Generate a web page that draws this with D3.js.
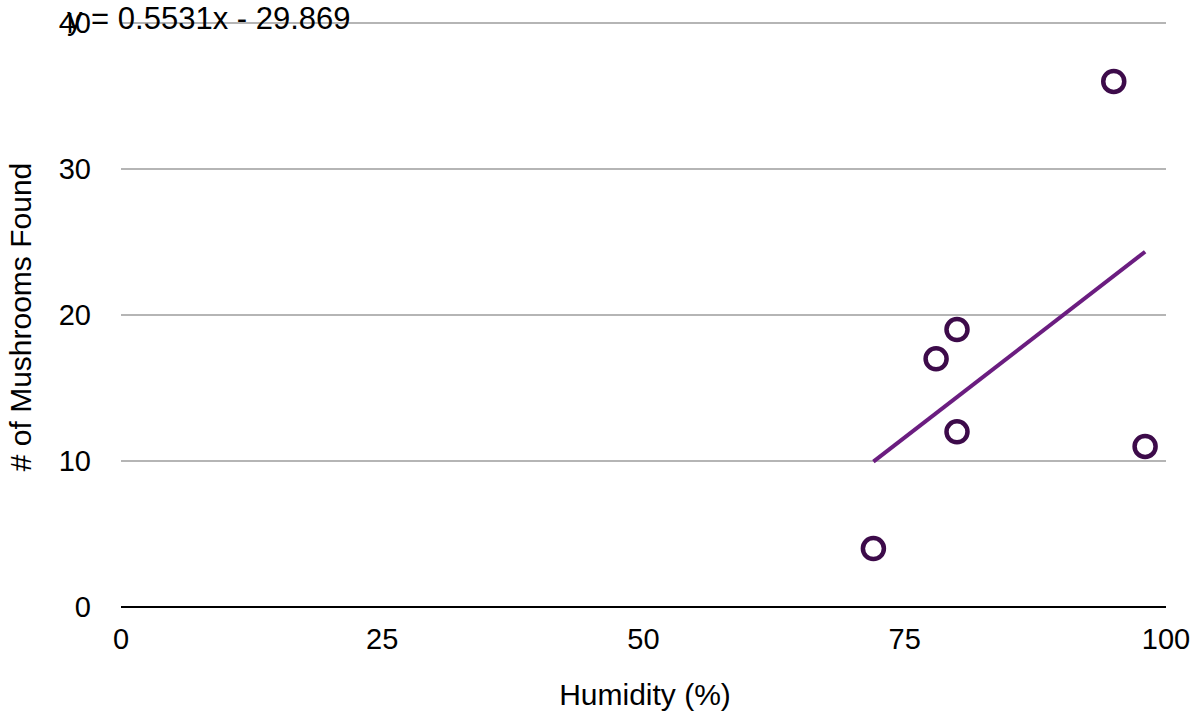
<!DOCTYPE html>
<html><head><meta charset="utf-8">
<script src="https://cdn.jsdelivr.net/npm/d3@7"></script>
<style>body{margin:0;background:#fff;} text{font-family:"Liberation Sans",Arial,Helvetica,sans-serif;}</style>
</head><body>
<svg id="c" width="1199" height="719"></svg>
<script>
const humidity = [72, 78, 80, 80, 95, 98];
const mushrooms = [4, 17, 19, 12, 36, 11];
const xTicks = [0, 25, 50, 75, 100];
const yTicks = [0, 10, 20, 30, 40];
const slope = 0.5531, intercept = -29.869;
const equationLabel = "y = 0.5531x - 29.869";
const xTitle = "Humidity (%)";
const yTitle = "# of Mushrooms Found";

const svg = d3.select("#c");
const x = d3.scaleLinear().domain([0, 100]).range([121, 1166]);
const y = d3.scaleLinear().domain([0, 40]).range([607, 23]);

// gridlines
svg.append("g").selectAll("line").data(yTicks.filter(d => d > 0)).join("line")
  .attr("x1", x(0)).attr("x2", x(100))
  .attr("y1", d => y(d)).attr("y2", d => y(d))
  .attr("stroke", "#b5b5b5").attr("stroke-width", 2);
// x axis line
svg.append("line").attr("x1", x(0)).attr("x2", x(100)).attr("y1", y(0)).attr("y2", y(0))
  .attr("stroke", "#000").attr("stroke-width", 2);

// y tick labels
svg.append("g").selectAll("text").data(yTicks).join("text")
  .attr("x", 91).attr("y", d => y(d)).attr("dy", "0.36em")
  .attr("text-anchor", "end").attr("font-size", 29).attr("fill", "#000")
  .text(d => d);
// x tick labels
svg.append("g").selectAll("text").data(xTicks).join("text")
  .attr("x", d => x(d)).attr("y", 649)
  .attr("text-anchor", "middle").attr("font-size", 29).attr("fill", "#000")
  .text(d => d);

// titles
svg.append("text").attr("x", 645).attr("y", 705).attr("text-anchor", "middle")
  .attr("font-size", 30).text(xTitle);
svg.append("text").attr("transform", "translate(31,317) rotate(-90)").attr("text-anchor", "middle")
  .attr("font-size", 30).text(yTitle);

// trendline
const xs = d3.extent(humidity);
svg.append("line")
  .attr("x1", x(xs[0])).attr("y1", y(slope * xs[0] + intercept))
  .attr("x2", x(xs[1])).attr("y2", y(slope * xs[1] + intercept))
  .attr("stroke", "#6b1d80").attr("stroke-width", 4);

// points
svg.append("g").selectAll("circle").data(humidity.map((h, i) => [h, mushrooms[i]])).join("circle")
  .attr("cx", d => x(d[0])).attr("cy", d => y(d[1])).attr("r", 10.5)
  .attr("fill", "#fff").attr("stroke", "#3d0b4a").attr("stroke-width", 4.5);

// equation label
svg.append("text").attr("x", 67).attr("y", 29).attr("font-size", 31).attr("fill", "#000")
  .text(equationLabel);
</script>
</body></html>
